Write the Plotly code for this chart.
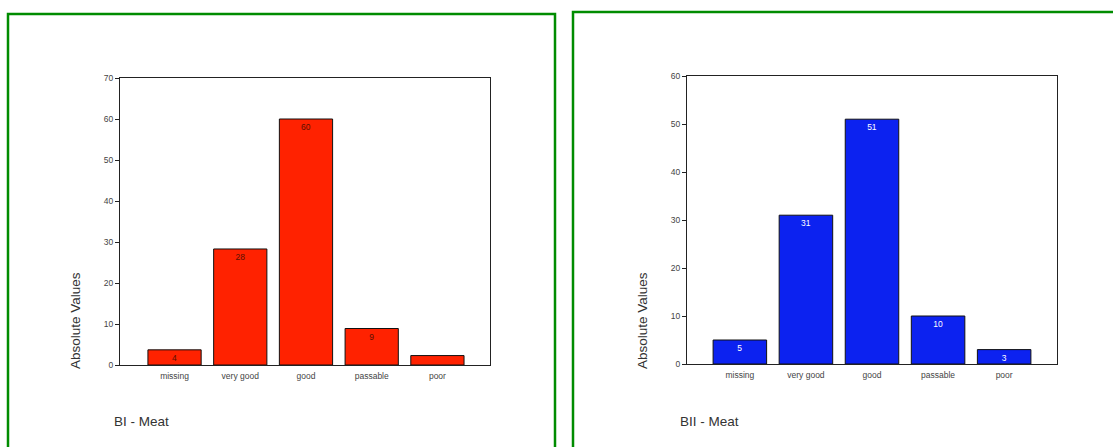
import plotly.graph_objects as go

categories = ["missing", "very good", "good", "passable", "poor"]
values_bi = [3.7, 28.3, 60, 8.9, 2.3]
labels_bi = ["4", "28", "60", "9", ""]
values_bii = [5, 31, 51, 10, 3]
labels_bii = ["5", "31", "51", "10", "3"]
ticks_bi = [0, 10, 20, 30, 40, 50, 60, 70]
ticks_bii = [0, 10, 20, 30, 40, 50, 60]

W, H = 1113, 447
px = lambda x: x / W
py = lambda y: 1 - y / H

fig = go.Figure()
fig.add_trace(go.Bar(
    x=categories, y=values_bi, text=labels_bi, xaxis="x", yaxis="y",
    marker=dict(color="#FF2200", line=dict(color="#111111", width=1)),
    width=0.81, textposition="inside", insidetextanchor="end", textangle=0,
    textfont=dict(size=8.5, color="#5a1000", family="Liberation Sans"),
    constraintext="none", showlegend=False))
fig.add_trace(go.Bar(
    x=categories, y=values_bii, text=labels_bii, xaxis="x2", yaxis="y2",
    marker=dict(color="#0C22F0", line=dict(color="#111111", width=1)),
    width=0.81, textposition="inside", insidetextanchor="end", textangle=0,
    textfont=dict(size=8.5, color="white", family="Liberation Sans"),
    constraintext="none", showlegend=False))

axis_common = dict(showline=True, linecolor="#222222", linewidth=1, mirror=True,
                   showgrid=False, zeroline=False, automargin=False,
                   tickfont=dict(size=8.5, color="#444444", family="Liberation Sans"))

fig.update_layout(
    width=W, height=H, margin=dict(l=0, r=0, t=0, b=0, autoexpand=False),
    paper_bgcolor="white", plot_bgcolor="white",
    font=dict(family="Liberation Sans"),
    xaxis=dict(domain=[px(120), px(490)], anchor="y", range=[-0.83, 4.8],
               ticks="", ticklabelstandoff=3, **axis_common),
    yaxis=dict(domain=[py(365), py(78)], anchor="x", range=[0, 70],
               tickvals=ticks_bi, ticks="outside", ticklen=4, tickcolor="#222222",
               **axis_common),
    xaxis2=dict(domain=[px(687), px(1057)], anchor="y2", range=[-0.8, 4.8],
                ticks="", ticklabelstandoff=3, **axis_common),
    yaxis2=dict(domain=[py(364), py(76)], anchor="x2", range=[0, 60],
                tickvals=ticks_bii, ticks="outside", ticklen=4, tickcolor="#222222",
                **axis_common),
)

# panel borders
fig.add_shape(type="rect", xref="paper", yref="paper",
              x0=px(8), x1=px(555), y0=py(460), y1=py(14),
              line=dict(color="#008C00", width=2.5))
fig.add_shape(type="rect", xref="paper", yref="paper",
              x0=px(573), x1=px(1125), y0=py(460), y1=py(12),
              line=dict(color="#008C00", width=2.5))

# y titles
for xc in (75, 642):
    fig.add_annotation(xref="paper", yref="paper", x=px(xc), y=py(321),
                       xanchor="center", yanchor="middle",
                       text="Absolute Values", textangle=-90, showarrow=False,
                       font=dict(size=13.5, color="#333333", family="Liberation Sans"))

# captions
fig.add_annotation(xref="paper", yref="paper", x=px(112), y=py(421),
                   xanchor="left", yanchor="middle",
                   text="BI - Meat", showarrow=False,
                   font=dict(size=13.5, color="#333333", family="Liberation Sans"))
fig.add_annotation(xref="paper", yref="paper", x=px(678), y=py(421),
                   xanchor="left", yanchor="middle",
                   text="BII - Meat", showarrow=False,
                   font=dict(size=13.5, color="#333333", family="Liberation Sans"))

fig.write_html("out.html", config={"displayModeBar": False},
               post_script="document.body.style.margin='0';document.body.style.overflow='hidden';")
